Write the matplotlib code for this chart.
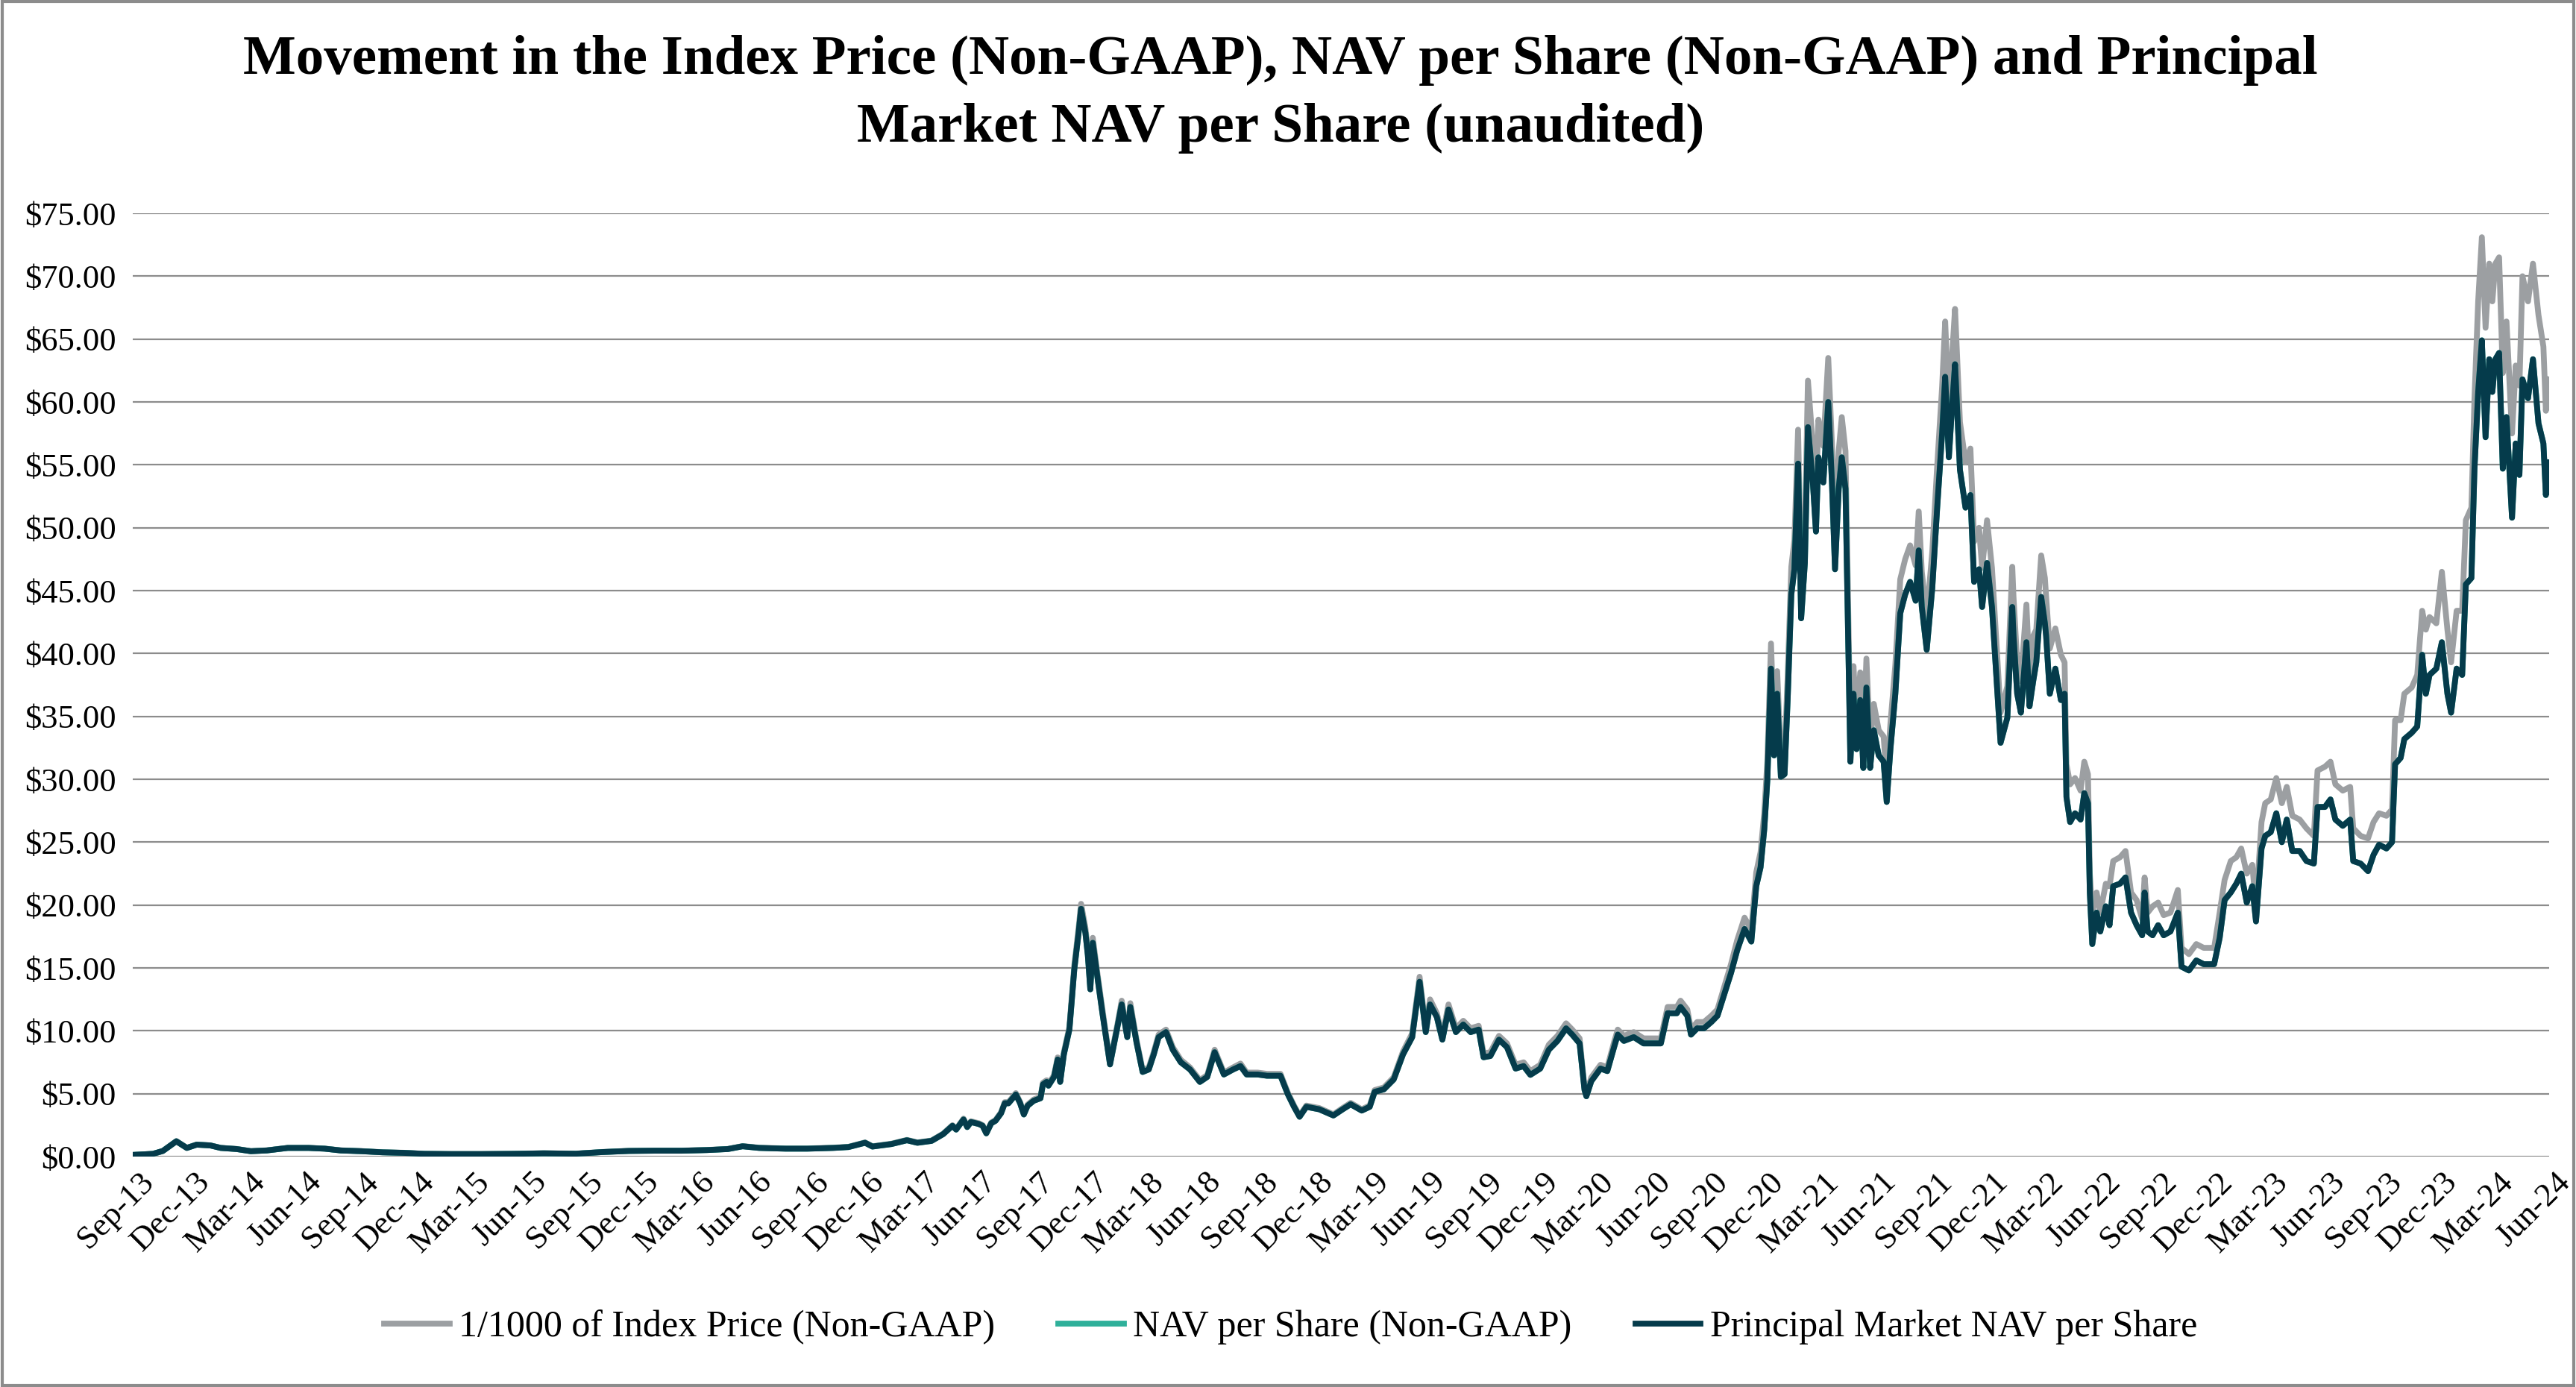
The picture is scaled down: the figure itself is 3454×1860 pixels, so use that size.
import matplotlib
matplotlib.use("Agg")
import matplotlib.pyplot as plt
import matplotlib.transforms as mtransforms
from matplotlib.patches import Rectangle
from matplotlib.ticker import FuncFormatter
import pandas as pd

plt.rcParams["font.family"] = ["Liberation Serif", "DejaVu Serif"]

# values
dates = [
    "2013-09-03", "2013-10-04", "2013-10-20", "2013-11-11", "2013-11-28", "2013-12-14",
    "2014-01-05", "2014-01-22", "2014-02-17", "2014-03-12", "2014-04-07", "2014-05-11",
    "2014-06-14", "2014-07-10", "2014-08-05", "2014-09-08", "2014-10-12", "2014-11-15",
    "2014-12-19", "2015-02-01", "2015-03-21", "2015-05-11", "2015-07-01", "2015-08-22",
    "2015-10-04", "2015-11-16", "2015-12-28", "2016-02-10", "2016-03-22", "2016-04-25",
    "2016-05-19", "2016-06-15", "2016-07-28", "2016-09-01", "2016-10-13", "2016-11-07",
    "2016-12-04", "2016-12-16", "2017-01-16", "2017-02-10", "2017-02-27", "2017-03-22",
    "2017-04-10", "2017-04-25", "2017-05-01", "2017-05-13", "2017-05-19", "2017-05-25",
    "2017-06-07", "2017-06-13", "2017-06-19", "2017-06-27", "2017-07-04", "2017-07-13",
    "2017-07-19", "2017-07-25", "2017-08-06", "2017-08-13", "2017-08-19", "2017-08-25",
    "2017-09-04", "2017-09-15", "2017-09-19", "2017-09-25", "2017-09-28", "2017-10-07",
    "2017-10-13", "2017-10-17", "2017-10-23", "2017-11-01", "2017-11-09", "2017-11-16",
    "2017-11-20", "2017-11-27", "2017-12-01", "2017-12-05", "2017-12-09", "2017-12-17",
    "2017-12-25", "2018-01-06", "2018-01-18", "2018-01-25", "2018-02-03", "2018-02-08",
    "2018-02-18", "2018-02-28", "2018-03-10", "2018-03-18", "2018-03-26", "2018-04-07",
    "2018-04-18", "2018-05-01", "2018-05-16", "2018-06-01", "2018-06-13", "2018-06-25",
    "2018-07-10", "2018-07-25", "2018-08-06", "2018-08-16", "2018-09-03", "2018-09-18",
    "2018-10-10", "2018-10-22", "2018-11-01", "2018-11-10", "2018-11-21", "2018-12-12",
    "2019-01-04", "2019-01-19", "2019-02-01", "2019-02-19", "2019-03-04", "2019-03-12",
    "2019-03-27", "2019-04-12", "2019-04-27", "2019-05-12", "2019-05-24", "2019-06-03",
    "2019-06-10", "2019-06-21", "2019-06-30", "2019-07-10", "2019-07-22", "2019-08-03",
    "2019-08-15", "2019-08-28", "2019-09-05", "2019-09-16", "2019-09-30", "2019-10-13",
    "2019-10-27", "2019-11-09", "2019-11-20", "2019-12-06", "2019-12-20", "2020-01-03",
    "2020-01-17", "2020-01-27", "2020-02-08", "2020-02-16", "2020-02-19", "2020-02-27",
    "2020-03-13", "2020-03-24", "2020-04-04", "2020-04-10", "2020-04-20", "2020-05-06",
    "2020-05-22", "2020-06-02", "2020-06-19", "2020-06-30", "2020-07-15", "2020-07-21",
    "2020-08-01", "2020-08-07", "2020-08-17", "2020-08-28", "2020-09-09", "2020-09-19",
    "2020-09-30", "2020-10-11", "2020-10-21", "2020-11-02", "2020-11-13", "2020-11-21",
    "2020-11-28", "2020-12-04", "2020-12-09", "2020-12-15", "2020-12-20", "2020-12-25",
    "2020-12-31", "2021-01-06", "2021-01-11", "2021-01-17", "2021-01-22", "2021-01-28",
    "2021-02-02", "2021-02-08", "2021-02-13", "2021-02-21", "2021-02-26", "2021-03-02",
    "2021-03-10", "2021-03-18", "2021-03-24", "2021-03-29", "2021-04-04", "2021-04-09",
    "2021-04-15", "2021-04-23", "2021-04-28", "2021-05-03", "2021-05-09", "2021-05-14",
    "2021-05-19", "2021-05-25", "2021-05-31", "2021-06-08", "2021-06-16", "2021-06-21",
    "2021-06-27", "2021-07-05", "2021-07-13", "2021-07-21", "2021-07-29", "2021-08-07",
    "2021-08-12", "2021-08-17", "2021-08-25", "2021-09-03", "2021-09-11", "2021-09-19",
    "2021-09-24", "2021-09-30", "2021-10-05", "2021-10-10", "2021-10-18", "2021-10-27",
    "2021-11-04", "2021-11-10", "2021-11-18", "2021-11-23", "2021-12-01", "2021-12-09",
    "2021-12-23", "2022-01-03", "2022-01-11", "2022-01-13", "2022-01-19", "2022-01-25",
    "2022-02-03", "2022-02-08", "2022-02-14", "2022-02-19", "2022-02-27", "2022-03-05",
    "2022-03-07", "2022-03-13", "2022-03-22", "2022-03-31", "2022-04-06", "2022-04-09",
    "2022-04-15", "2022-04-23", "2022-05-02", "2022-05-08", "2022-05-14", "2022-05-17",
    "2022-05-21", "2022-05-28", "2022-06-03", "2022-06-12", "2022-06-18", "2022-06-24",
    "2022-07-05", "2022-07-14", "2022-07-23", "2022-08-01", "2022-08-10", "2022-08-14",
    "2022-08-19", "2022-08-27", "2022-09-05", "2022-09-14", "2022-09-25", "2022-10-07",
    "2022-10-13", "2022-10-25", "2022-11-06", "2022-11-18", "2022-12-05", "2022-12-14",
    "2022-12-22", "2023-01-01", "2023-01-10", "2023-01-18", "2023-01-27", "2023-02-05",
    "2023-02-11", "2023-02-20", "2023-02-26", "2023-03-07", "2023-03-16", "2023-03-25",
    "2023-04-02", "2023-04-11", "2023-04-23", "2023-05-04", "2023-05-16", "2023-05-22",
    "2023-06-03", "2023-06-12", "2023-06-20", "2023-07-02", "2023-07-14", "2023-07-19",
    "2023-07-31", "2023-08-12", "2023-08-21", "2023-08-30", "2023-09-11", "2023-09-20",
    "2023-09-25", "2023-10-04", "2023-10-10", "2023-10-22", "2023-10-31", "2023-11-08",
    "2023-11-14", "2023-11-20", "2023-12-01", "2023-12-10", "2023-12-19", "2023-12-25",
    "2024-01-03", "2024-01-12", "2024-01-18", "2024-01-27", "2024-02-01", "2024-02-07",
    "2024-02-13", "2024-02-19", "2024-02-25", "2024-03-01", "2024-03-06", "2024-03-12",
    "2024-03-18", "2024-03-24", "2024-04-02", "2024-04-08", "2024-04-14", "2024-04-19",
    "2024-04-28", "2024-05-06", "2024-05-15", "2024-05-23", "2024-05-27", "2024-06-01",
]

index_price = [  # 1/1000 of Index Price (Non-GAAP)
    0.14, 0.22, 0.45, 1.23, 0.70, 0.96,
    0.90, 0.70, 0.61, 0.44, 0.50, 0.70,
    0.70, 0.64, 0.50, 0.44, 0.35, 0.31,
    0.23, 0.21, 0.21, 0.23, 0.27, 0.24,
    0.37, 0.46, 0.48, 0.48, 0.53, 0.61,
    0.84, 0.71, 0.65, 0.65, 0.71, 0.78,
    1.13, 0.82, 1.03, 1.33, 1.13, 1.28,
    1.83, 2.50, 2.20, 3.02, 2.40, 2.81,
    2.65, 2.50, 1.89, 2.71, 2.91, 3.53,
    4.33, 4.33, 5.05, 4.33, 3.42, 4.13,
    4.54, 4.74, 5.87, 6.07, 5.76, 6.47,
    7.89, 6.07, 8.30, 10.3, 15.2, 18.2,
    20.1, 18.2, 16.4, 13.6, 17.4, 14.4,
    11.6, 7.50, 10.5, 12.4, 9.7, 12.2,
    9.3, 6.88, 7.09, 8.30, 9.7, 10.1,
    8.7, 7.7, 7.09, 6.08, 6.49, 8.5,
    6.68, 7.09, 7.4, 6.68, 6.68, 6.58,
    6.58, 5.07, 4.06, 3.25, 4.06, 3.86,
    3.36, 3.86, 4.27, 3.76, 4.07, 5.29,
    5.50, 6.31, 8.35, 9.8, 14.3, 10.2,
    12.5, 11.4, 9.6, 12.1, 10.2, 10.8,
    10.2, 10.4, 8.2, 8.3, 9.6, 9.0,
    7.3, 7.5, 6.8, 7.3, 8.9, 9.6,
    10.6, 10.1, 9.4, 5.5, 5.0, 6.3,
    7.3, 7.1, 9.1, 10.1, 9.6, 9.9,
    9.4, 9.4, 9.4, 11.9, 11.9, 12.4,
    11.7, 10.1, 10.7, 10.7, 11.2, 11.7,
    13.5, 15.3, 17.2, 19.0, 18.0, 22.6,
    24.2, 27.3, 31.4, 40.8, 33.5, 38.6,
    31.7, 31.9, 38.1, 46.9, 49.0, 57.8,
    45.0, 49.6, 61.7, 56.5, 52.4, 58.6,
    56.5, 63.5, 56.6, 49.4, 56.1, 58.8,
    56.1, 33.3, 39.0, 34.4, 38.5, 32.8,
    39.6, 32.8, 36.0, 33.9, 33.4, 30.0,
    34.4, 39.1, 45.9, 47.5, 48.6, 47.0,
    51.3, 46.5, 42.9, 48.1, 54.9, 61.2,
    66.4, 59.3, 63.5, 67.4, 58.4, 55.2,
    56.3, 48.9, 50.0, 46.8, 50.6, 46.8,
    35.3, 37.4, 46.9, 44.5, 39.3, 37.8,
    43.9, 38.3, 41.4, 41.9, 47.8, 46.0,
    44.5, 40.4, 42.0, 39.9, 39.3, 31.2,
    29.6, 30.1, 29.1, 31.4, 30.4, 22.5,
    19.4, 21.0, 19.4, 21.7, 21.5, 23.5,
    23.8, 24.3, 21.0, 20.4, 18.9, 22.2,
    19.4, 19.9, 20.2, 19.2, 19.4, 21.2,
    16.6, 16.1, 16.9, 16.6, 16.6, 19.4,
    22.0, 23.5, 23.8, 24.5, 22.5, 23.2,
    19.9, 26.6, 28.1, 28.4, 30.1, 28.1,
    29.4, 27.1, 26.8, 26.1, 25.5, 30.7,
    31.0, 31.4, 29.6, 29.1, 29.4, 26.1,
    25.5, 25.3, 26.6, 27.3, 27.1, 27.6,
    34.7, 34.7, 36.8, 37.3, 38.3, 43.4,
    41.9, 42.9, 42.4, 46.5, 41.9, 39.3,
    43.4, 43.4, 50.6, 51.6, 60.3, 68.0,
    73.1, 65.9, 71.0, 68.0, 71.0, 71.5,
    62.3, 66.4, 57.5, 62.9, 61.3, 70.0,
    68.0, 71.0, 66.9, 64.4, 59.3, 61.8,
]

principal_nav = [  # Principal Market NAV per Share
    0.14, 0.22, 0.45, 1.22, 0.69, 0.95,
    0.89, 0.69, 0.60, 0.43, 0.49, 0.69,
    0.69, 0.63, 0.49, 0.43, 0.34, 0.30,
    0.22, 0.20, 0.20, 0.22, 0.26, 0.23,
    0.36, 0.45, 0.47, 0.47, 0.52, 0.60,
    0.82, 0.69, 0.63, 0.63, 0.69, 0.76,
    1.10, 0.80, 1.00, 1.30, 1.10, 1.25,
    1.79, 2.45, 2.15, 2.95, 2.35, 2.75,
    2.59, 2.45, 1.85, 2.65, 2.85, 3.45,
    4.24, 4.24, 4.94, 4.24, 3.35, 4.04,
    4.44, 4.64, 5.74, 5.94, 5.64, 6.33,
    7.72, 5.94, 8.12, 10.1, 14.9, 17.8,
    19.7, 17.8, 16.0, 13.3, 17.0, 14.1,
    11.3, 7.33, 10.3, 12.1, 9.5, 11.9,
    9.1, 6.73, 6.93, 8.12, 9.5, 9.9,
    8.5, 7.5, 6.93, 5.94, 6.34, 8.3,
    6.53, 6.93, 7.2, 6.53, 6.53, 6.43,
    6.43, 4.95, 3.96, 3.17, 3.96, 3.76,
    3.27, 3.76, 4.16, 3.66, 3.96, 5.15,
    5.35, 6.14, 8.12, 9.5, 13.9, 9.9,
    12.1, 11.1, 9.3, 11.7, 9.9, 10.5,
    9.9, 10.1, 7.9, 8.0, 9.3, 8.7,
    7.0, 7.2, 6.5, 7.0, 8.5, 9.2,
    10.2, 9.7, 9.0, 5.3, 4.8, 6.0,
    7.0, 6.8, 8.7, 9.7, 9.2, 9.5,
    9.0, 9.0, 9.0, 11.4, 11.4, 11.9,
    11.2, 9.7, 10.2, 10.2, 10.7, 11.2,
    12.9, 14.6, 16.4, 18.1, 17.1, 21.5,
    23.0, 26.0, 29.9, 38.8, 31.9, 36.8,
    30.2, 30.4, 36.3, 44.7, 46.7, 55.1,
    42.8, 47.2, 58.0, 53.6, 49.7, 55.6,
    53.6, 60.0, 53.6, 46.7, 53.1, 55.6,
    53.1, 31.4, 36.8, 32.4, 36.3, 30.9,
    37.3, 30.9, 33.9, 31.9, 31.4, 28.2,
    32.4, 36.8, 43.2, 44.7, 45.7, 44.2,
    48.2, 43.7, 40.3, 45.2, 51.6, 57.5,
    62.0, 55.6, 59.5, 63.0, 54.6, 51.6,
    52.6, 45.7, 46.7, 43.7, 47.2, 43.7,
    32.9, 34.9, 43.7, 41.4, 36.8, 35.3,
    40.9, 35.8, 37.8, 39.3, 44.5, 42.4,
    41.4, 36.8, 38.8, 36.3, 36.8, 28.6,
    26.6, 27.3, 26.8, 28.9, 28.1, 21.0,
    16.9, 19.4, 17.9, 19.9, 18.4, 21.5,
    21.7, 22.2, 19.4, 18.4, 17.6, 21.0,
    17.9, 17.6, 18.4, 17.6, 17.9, 19.4,
    15.1, 14.8, 15.6, 15.3, 15.3, 17.4,
    20.4, 21.0, 21.7, 22.5, 20.2, 21.5,
    18.7, 24.5, 25.5, 25.8, 27.3, 25.0,
    26.8, 24.3, 24.3, 23.5, 23.3, 27.8,
    27.8, 28.4, 26.8, 26.3, 26.8, 23.5,
    23.3, 22.7, 24.0, 24.8, 24.5, 25.0,
    31.2, 31.7, 33.2, 33.7, 34.2, 39.9,
    36.8, 38.3, 38.8, 40.9, 36.8, 35.3,
    38.8, 38.3, 45.5, 46.0, 54.7, 60.8,
    64.9, 57.2, 63.4, 60.8, 63.4, 63.9,
    54.7, 58.8, 50.8, 56.7, 54.2, 61.8,
    60.3, 63.4, 58.3, 56.7, 52.6, 55.2,
]

# NAV per Share (Non-GAAP) runs under the Principal Market NAV in the picture
nav_per_share = principal_nav

series_labels = ["1/1000 of Index Price (Non-GAAP)", "NAV per Share (Non-GAAP)",
                 "Principal Market NAV per Share"]
series_colors = ["#9c9fa2", "#2fb09a", "#053b4b"]

x = pd.to_datetime(dates)

fig = plt.figure(figsize=(17.27, 9.3), dpi=200)
ax = fig.add_axes([0.0515, 0.1661, 0.938, 0.6801])

ax.plot(x, index_price, color=series_colors[0], linewidth=2.8, label=series_labels[0])
ax.plot(x, nav_per_share, color=series_colors[1], linewidth=2.8, label=series_labels[1])
ax.plot(x, principal_nav, color=series_colors[2], linewidth=2.8, label=series_labels[2])

ax.set_ylim(0, 75)
ax.set_yticks(range(0, 80, 5))
ax.yaxis.set_major_formatter(FuncFormatter(lambda v, p: "${:.2f}".format(v)))
ax.grid(axis="y", color="#8c8c8c", linewidth=0.8)
ax.set_axisbelow(True)

ax.set_xlim(pd.Timestamp("2013-09-01"), pd.Timestamp("2024-06-01"))
ticks = pd.date_range("2013-09-01", "2024-06-01", freq="3MS")
ax.set_xticks(ticks)
ax.set_xticklabels([t.strftime("%b-%y") for t in ticks])

for s in ax.spines.values():
    s.set_visible(False)
ax.tick_params(axis="both", length=0, labelsize=16, colors="black")
ax.tick_params(axis="y", pad=8)
ax.tick_params(axis="x", pad=5)

shift = mtransforms.ScaledTranslation(8 / 200, 0, fig.dpi_scale_trans)
for lab in ax.get_xticklabels():
    lab.set_rotation(45)
    lab.set_ha("right")
    lab.set_va("top")
    lab.set_rotation_mode("anchor")
    lab.set_transform(lab.get_transform() + shift)

fig.text(0.497, 0.932,
         "Movement in the Index Price (Non-GAAP), NAV per Share (Non-GAAP) and Principal\n"
         "Market NAV per Share (unaudited)",
         ha="center", va="center", fontsize=27, fontweight="bold", linespacing=1.45)

fig.legend(loc="center", bbox_to_anchor=(0.501, 0.043), ncol=3, frameon=False,
           fontsize=18, handlelength=1.75, handletextpad=0.25, columnspacing=1.7)

fig.patches.append(Rectangle((0.001, 0.001), 0.998, 0.998, transform=fig.transFigure,
                             fill=False, edgecolor="#8c8c8c", linewidth=1.5))

fig.savefig("out.png", dpi=200)
